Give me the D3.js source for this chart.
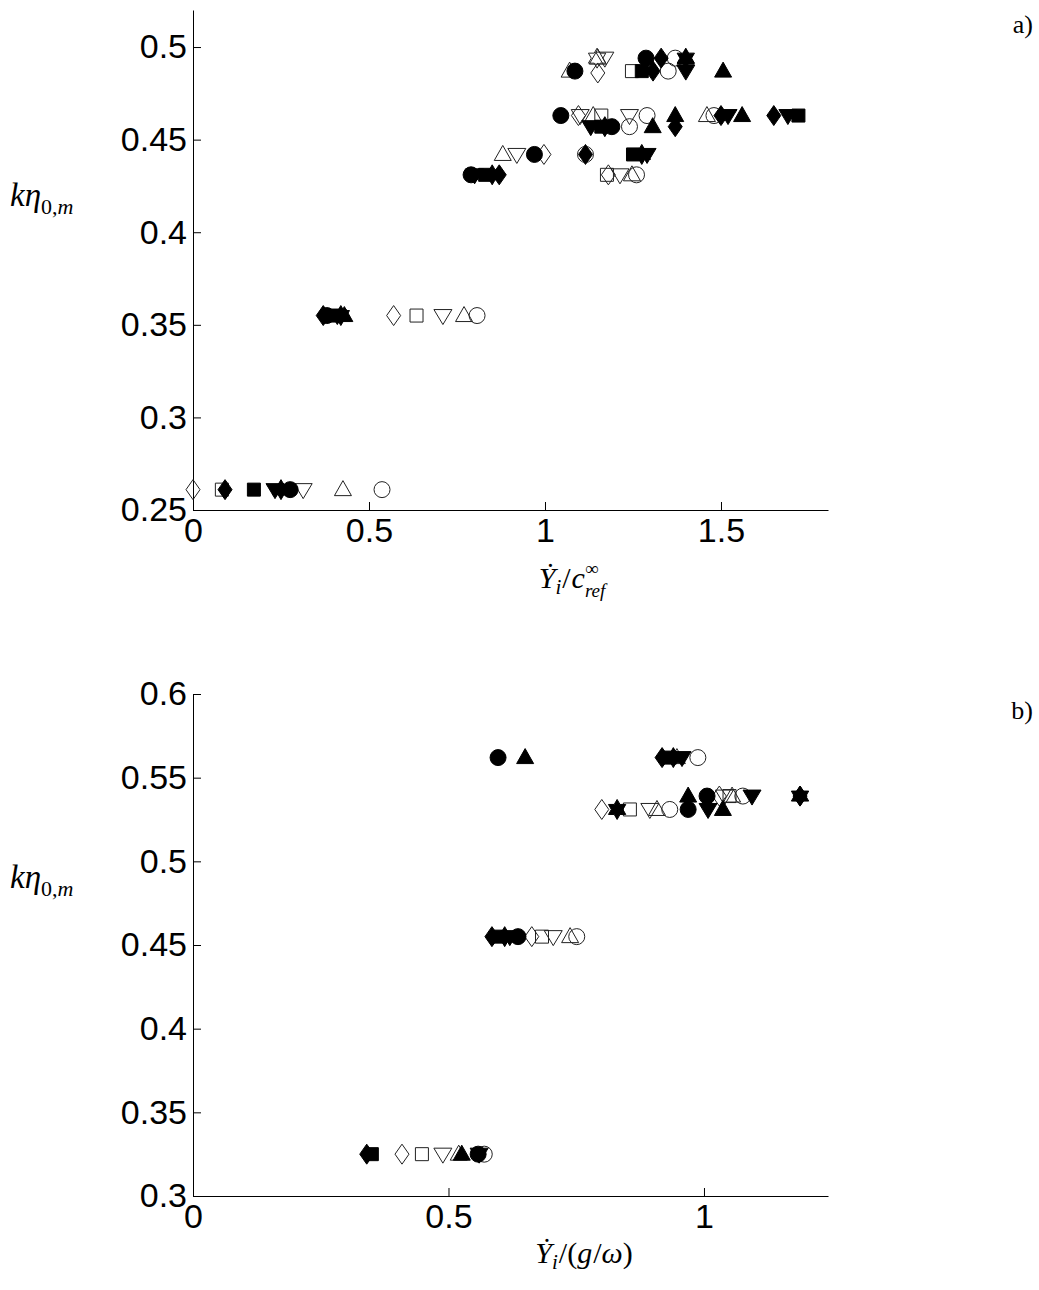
<!DOCTYPE html>
<html>
<head>
<meta charset="utf-8">
<script src="https://cdn.jsdelivr.net/npm/d3@7"></script>
<style>
  body { margin: 0; background: #fff; }
  .axis text { font-family: "Liberation Sans", Arial, sans-serif; font-size: 34px; fill: #000; }
  .axis path, .axis line { stroke: #000; stroke-width: 1; }
</style>
</head>
<body>
<svg id="fig" width="1039" height="1290"></svg>
<script>
// panel a) : x = Ydot_i / c_ref^inf , y = k eta_0,m
const aTicksX = [0, 0.5, 1, 1.5];
const aTicksY = [0.25, 0.3, 0.35, 0.4, 0.45, 0.5];
const aCircleF = [[0.276,0.261],[0.38,0.355],[0.79,0.431],[0.97,0.442],[1.045,0.463],[1.19,0.457],[1.085,0.487],[1.287,0.494]];
const aCircleO = [[0.537,0.261],[0.807,0.355],[1.26,0.431],[1.115,0.442],[1.24,0.457],[1.29,0.463],[1.48,0.463],[1.35,0.487],[1.37,0.494]];
const aSquareF = [[0.173,0.261],[0.40,0.355],[0.83,0.431],[1.25,0.442],[1.16,0.457],[1.72,0.463],[1.275,0.487]];
const aSquareO = [[0.082,0.261],[0.635,0.355],[1.176,0.431],[1.16,0.463],[1.247,0.487]];
const aDiamondF = [[0.091,0.261],[0.37,0.355],[0.87,0.431],[1.115,0.442],[1.37,0.457],[1.50,0.463],[1.65,0.463],[1.307,0.487],[1.33,0.494]];
const aDiamondO = [[0.0,0.261],[0.57,0.355],[0.997,0.442],[1.18,0.431],[1.095,0.463],[1.15,0.486]];
const aTriUpF = [[0.43,0.355],[1.306,0.457],[1.37,0.463],[1.56,0.463],[1.506,0.487],[1.40,0.494]];
const aTriUpO = [[0.426,0.261],[0.77,0.355],[0.88,0.442],[1.247,0.431],[1.137,0.463],[1.46,0.463],[1.07,0.487],[1.15,0.494]];
const aTriDownF = [[0.233,0.261],[0.41,0.355],[0.80,0.431],[1.29,0.442],[1.13,0.457],[1.52,0.463],[1.69,0.463],[1.40,0.487]];
const aTriDownO = [[0.313,0.261],[0.71,0.355],[0.92,0.442],[1.213,0.431],[1.24,0.463],[1.10,0.463],[1.17,0.494]];
const aStarF = [[0.25,0.261],[0.42,0.355],[0.85,0.431],[1.275,0.442],[1.17,0.457],[1.40,0.494]];
const aStarO = [[1.148,0.494]];

// panel b) : x = Ydot_i / (g/omega)
const bTicksX = [0, 0.5, 1];
const bTicksY = [0.3, 0.35, 0.4, 0.45, 0.5, 0.55, 0.6];
const bCircleF = [[0.597,0.562],[0.636,0.455],[0.969,0.531],[1.006,0.539],[0.558,0.325]];
const bCircleO = [[0.988,0.562],[0.933,0.531],[1.076,0.539],[0.751,0.455],[0.57,0.325]];
const bSquareF = [[0.933,0.562],[0.60,0.455],[0.35,0.325]];
const bSquareO = [[0.855,0.531],[1.05,0.539],[0.683,0.455],[0.448,0.325]];
const bDiamondF = [[0.918,0.562],[0.585,0.455],[0.34,0.325],[1.188,0.539]];
const bDiamondO = [[0.80,0.531],[1.03,0.539],[0.663,0.455],[0.409,0.325]];
const bTriUpF = [[0.65,0.562],[0.969,0.539],[1.037,0.531],[0.526,0.325]];
const bTriUpO = [[0.947,0.562],[0.908,0.531],[1.055,0.539],[0.738,0.455],[0.52,0.325]];
const bTriDownF = [[0.957,0.562],[1.008,0.531],[1.094,0.539],[0.62,0.455],[0.56,0.325]];
const bTriDownO = [[0.894,0.531],[0.705,0.455],[0.489,0.325],[1.04,0.539]];
const bStarF = [[0.83,0.531],[1.188,0.539],[0.61,0.455],[0.94,0.562]];

const svg = d3.select("#fig");
const serif = '"Liberation Serif", "Times New Roman", serif';

// marker outlines, in px round (0,0)
function shapePoints(shape) {
    if (shape === "square") return [[-6.5,-6.5],[6.5,-6.5],[6.5,6.5],[-6.5,6.5]];
    if (shape === "diamond") return [[0,-10],[7,0],[0,10],[-7,0]];
    if (shape === "up") return [[0,-9],[8.5,6],[-8.5,6]];
    if (shape === "down") return [[-9,-6],[9,-6],[0,9]];
    if (shape === "star") {
        const pts = [];
        for (let i = 0; i < 12; i++) {
            const r = i % 2 === 0 ? 10 : 5.8;
            const a = -Math.PI / 2 + i * Math.PI / 6;
            pts.push([r * Math.cos(a), r * Math.sin(a)]);
        }
        return pts;
    }
    return null;
}
const line = d3.line().curve(d3.curveLinearClosed);

function drawMarkers(g, x, y, data, shape, filled) {
    const sel = g.append("g").selectAll("path").data(data).enter();
    const style = s => s
        .attr("fill", filled ? "#000" : "none")
        .attr("stroke", filled ? "#000" : "#222")
        .attr("stroke-width", 1);
    if (shape === "circle") {
        sel.append("circle")
            .attr("cx", d => x(d[0])).attr("cy", d => y(d[1]))
            .attr("r", 8)
            .call(style);
    } else {
        const pts = shapePoints(shape);
        sel.append("path")
            .attr("transform", d => `translate(${x(d[0])},${y(d[1])})`)
            .attr("d", line(pts))
            .call(style);
    }
}

// lay out a math label piece by piece; parts: {t, it, dy, size, stack}
function mathText(x0, baseline, parts, size, anchor) {
    const g = svg.append("g");
    let cx = 0;
    parts.forEach(p => {
        const fs = p.size || size;
        const t = g.append("text")
            .attr("x", cx).attr("y", baseline + (p.dy || 0))
            .style("font-family", serif)
            .style("font-style", p.it ? "italic" : "normal")
            .style("font-size", fs + "px")
            .text(p.t);
        const w = t.node().getComputedTextLength();
        if (p.stack) {
            const t2 = g.append("text")
                .attr("x", cx).attr("y", baseline + p.stack.dy)
                .style("font-family", serif)
                .style("font-style", p.stack.it ? "italic" : "normal")
                .style("font-size", p.stack.size + "px")
                .text(p.stack.t);
            cx += Math.max(w, t2.node().getComputedTextLength());
        } else {
            cx += w + (p.kern || 0);
        }
    });
    const shift = anchor === "middle" ? x0 - cx / 2 : x0;
    g.attr("transform", `translate(${shift},0)`);
    return g;
}

function panel(cfg) {
    const x = d3.scaleLinear().domain(cfg.xDomain).range([193, 828]);
    const y = d3.scaleLinear().domain(cfg.yDomain).range([cfg.bottom, cfg.top]);
    const fmt = d => String(+d.toFixed(2));

    svg.append("g").attr("class", "axis")
        .attr("transform", `translate(0,${cfg.bottom})`)
        .call(d3.axisBottom(x).tickValues(cfg.ticksX).tickFormat(fmt)
            .tickSizeInner(-8).tickSizeOuter(0).tickPadding(8))
        .call(g => g.selectAll("text").attr("dy", "0.71em"));

    svg.append("g").attr("class", "axis")
        .attr("transform", "translate(193,0)")
        .call(d3.axisLeft(y).tickValues(cfg.ticksY).tickFormat(fmt)
            .tickSizeInner(-8).tickSizeOuter(0).tickPadding(6));

    svg.selectAll(".axis .domain").attr("fill", "none");

    const g = svg.append("g");
    cfg.series.forEach(s => drawMarkers(g, x, y, s[0], s[1], s[2]));
}

panel({
    xDomain: [0, 1.804], yDomain: [0.25, 0.52], top: 10, bottom: 510,
    ticksX: aTicksX, ticksY: aTicksY,
    series: [
        [aCircleO, "circle", false], [aSquareO, "square", false], [aDiamondO, "diamond", false],
        [aTriUpO, "up", false], [aTriDownO, "down", false], [aStarO, "star", false],
        [aCircleF, "circle", true], [aSquareF, "square", true], [aDiamondF, "diamond", true],
        [aTriUpF, "up", true], [aTriDownF, "down", true], [aStarF, "star", true]
    ]
});

panel({
    xDomain: [0, 1.2427], yDomain: [0.3, 0.6], top: 694, bottom: 1196,
    ticksX: bTicksX, ticksY: bTicksY,
    series: [
        [bCircleO, "circle", false], [bSquareO, "square", false], [bDiamondO, "diamond", false],
        [bTriUpO, "up", false], [bTriDownO, "down", false],
        [bCircleF, "circle", true], [bSquareF, "square", true], [bDiamondF, "diamond", true],
        [bTriUpF, "up", true], [bTriDownF, "down", true], [bStarF, "star", true]
    ]
});

// y labels
const yLab = [{t: "kη", it: true}, {t: "0,", dy: 8, size: 22}, {t: "m", it: true, dy: 8, size: 22}];
mathText(10, 206, yLab, 33, "start");
mathText(10, 888, yLab, 33, "start");

// x labels
mathText(572, 588, [
    {t: "\u1E8E", it: true}, {t: "i", it: true, dy: 6, size: 21, kern: 1},
    {t: "/", kern: 1}, {t: "c", it: true},
    {t: "∞", dy: -13, size: 19, stack: {t: "ref", it: true, dy: 9, size: 19}}
], 30, "middle");
mathText(584, 1263, [
    {t: "\u1E8E", it: true}, {t: "i", it: true, dy: 6, size: 21, kern: 1},
    {t: "/(", kern: 0}, {t: "g", it: true, kern: 1}, {t: "/" }, {t: "ω", it: true}, {t: ")"}
], 30, "middle");

// panel tags
svg.append("text").attr("x", 1033).attr("y", 33).attr("text-anchor", "end")
    .style("font-family", serif).style("font-size", "26px").text("a)");
svg.append("text").attr("x", 1033).attr("y", 719).attr("text-anchor", "end")
    .style("font-family", serif).style("font-size", "26px").text("b)");
</script>
</body>
</html>
